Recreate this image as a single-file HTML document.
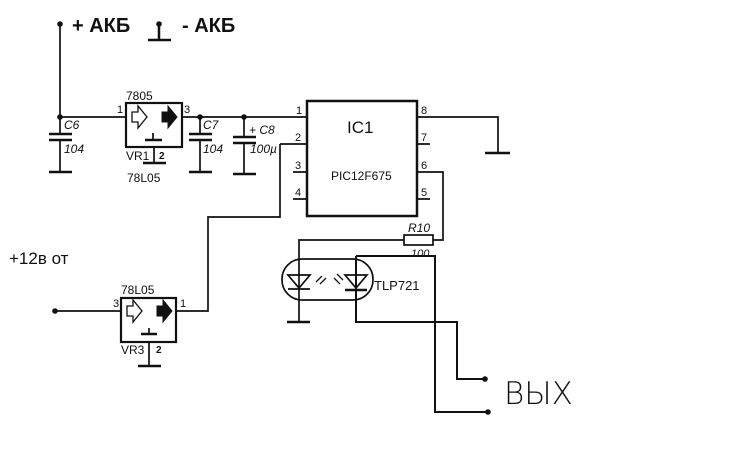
<!DOCTYPE html>
<html><head><meta charset="utf-8"><style>body{margin:0;background:#fff}svg{display:block}text{font-family:"Liberation Sans",sans-serif;fill:#111}</style></head><body>
<svg width="748" height="475" viewBox="0 0 748 475" xmlns="http://www.w3.org/2000/svg">
<g stroke="#111" stroke-width="1.7" fill="none">
<path d="M60 24V117H126M182 117H307"/>
<path d="M159 24V40M148 40H171" stroke-width="2.5"/>
<path d="M60 117V134M60 140V172"/><path d="M49 134H72M49 140H72M49 172H72" stroke-width="2.5"/>
<path d="M200 117V134M200 140V172"/><path d="M189 134H212M189 140H212M189 172H212" stroke-width="2.5"/>
<path d="M244 117V137M244 143V174"/><path d="M233 137H256M233 143H256M233 174H256" stroke-width="2.5"/>
<rect x="126" y="103" width="56" height="44" stroke-width="2.2"/>
<path d="M154 147V163"/><path d="M143 163H166M145 140H162" stroke-width="2.5"/>
<path d="M153 133V140"/>
<path d="M132 112h6v-6l9 11-9 11v-6h-6z" stroke-width="1.3"/>
<path d="M162 112h6v-6l9 11-9 11v-6h-6z" fill="#111" stroke-width="1"/>
<rect x="307" y="101" width="110" height="115" stroke-width="2.5"/>
<path d="M280 144H307M280 144V217H208V311H176M293 172H307M293 199H307"/>
<path d="M417 117H498V153M417 144H430M417 172H443V240H433M417 199H430"/>
<path d="M485 153H510" stroke-width="2.5"/>
<rect x="404" y="235" width="29" height="10"/>
<path d="M404 240H299V322"/><path d="M287 322H310" stroke-width="2.5"/>
<rect x="282" y="259" width="91" height="41" rx="20" ry="20"/>
<path d="M288 275H310L299 288Z"/><path d="M288 289H310"/>
<path d="M345 275H367L356 288Z"/><path d="M345 290H367" stroke-width="2.5"/>
<path d="M356 256V322H457V379H485M356 256H435V412H488" stroke-width="2"/>
<path d="M316 282l6-6M320 284l6-6M337 274l6 6M334 278l6 6" stroke-width="1.3"/>
<path d="M55 311H121"/>
<rect x="121" y="298" width="55" height="44" stroke-width="2.2"/>
<path d="M149 342V366"/><path d="M138 366H161M141 334H157" stroke-width="2.5"/><path d="M149 328V334"/>
<path d="M127 306h6v-6l9 11-9 11v-6h-6z" stroke-width="1.3"/>
<path d="M157 306h6v-6l9 11-9 11v-6h-6z" fill="#111" stroke-width="1"/>
</g>
<g fill="#111">
<circle cx="60" cy="24" r="2.8"/><circle cx="159" cy="24" r="2.8"/><circle cx="60" cy="117" r="2.8"/><circle cx="200" cy="117" r="2.8"/><circle cx="244" cy="117" r="2.8"/><circle cx="55" cy="311" r="2.8"/><circle cx="485" cy="379" r="2.8"/><circle cx="488" cy="412" r="2.8"/>
</g>
<text x="72" y="32" font-size="20" font-weight="bold">+ АКБ</text>
<text x="182" y="32" font-size="20" font-weight="bold">- АКБ</text>
<g font-size="12">
<text x="126" y="100">7805</text><text x="117" y="113" font-size="11">1</text><text x="184" y="113" font-size="11">3</text>
<text x="126" y="160">VR1</text><text x="159" y="159" font-size="10" font-weight="bold">2</text>
<text x="127" y="182">78L05</text>
<text x="296" y="114" font-size="11">1</text><text x="295" y="141" font-size="11">2</text><text x="295" y="169" font-size="11">3</text><text x="295" y="196" font-size="11">4</text>
<text x="421" y="114" font-size="11">8</text><text x="421" y="141" font-size="11">7</text><text x="421" y="169" font-size="11">6</text><text x="421" y="196" font-size="11">5</text>
<text x="331" y="180">PIC12F675</text>
<text x="374" y="290" font-size="13">TLP721</text>
<text x="121" y="294">78L05</text><text x="113" y="307" font-size="11">3</text><text x="180" y="307" font-size="11">1</text>
<text x="121" y="354">VR3</text><text x="156" y="353" font-size="10" font-weight="bold">2</text>
</g>
<g font-size="12" font-style="italic">
<text x="64" y="129">C6</text><text x="64" y="153">104</text>
<text x="203" y="129">C7</text><text x="203" y="153">104</text>
<text x="249" y="134">+ C8</text><text x="250" y="153">100µ</text>
<text x="408" y="232">R10</text><text x="411" y="257" font-size="11">100</text>
</g>
<text x="347" y="133" font-size="17">IC1</text>
<text x="9" y="264" font-size="17">+12в от</text>
<text x="504" y="404" font-size="31" font-weight="300" style="font-family:'DejaVu Sans',sans-serif" fill="#333">ВЫХ</text>
</svg>
</body></html>
